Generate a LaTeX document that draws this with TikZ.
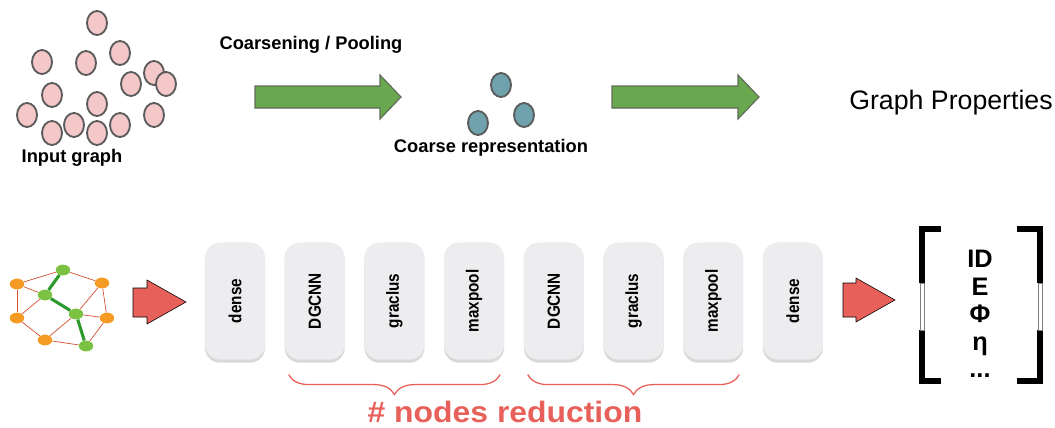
\documentclass[tikz,border=0pt]{standalone}
\usepackage{fontspec}
\setmainfont{Liberation Sans}
\usepackage{xcolor}
\usepackage{tikz}
\usetikzlibrary{shapes.geometric,shadows,decorations.pathreplacing,backgrounds}

\definecolor{pinkfill}{HTML}{F4C7C9}
\definecolor{ringgray}{HTML}{5A5A5A}
\definecolor{tealfill}{HTML}{6FA2AC}
\definecolor{arrowgreen}{HTML}{6AA84F}
\definecolor{arrowedge}{HTML}{5F6B5A}
\definecolor{arrowred}{HTML}{E8605A}
\definecolor{nodeorange}{HTML}{F59A23}
\definecolor{nodegreen}{HTML}{7CC242}
\definecolor{edgered}{HTML}{D2502E}
\definecolor{edgegreen}{HTML}{2E9A2E}
\definecolor{boxgray}{HTML}{EDEDF0}

\begin{document}
\begin{tikzpicture}[
x=0.025cm, y=-0.025cm,
pinknode/.style={ellipse, draw=ringgray, line width=1.3pt, fill=pinkfill, minimum width=0.5cm, minimum height=0.6cm, inner sep=0pt},
coarse/.style={pinknode, fill=tealfill},
gnode/.style={ellipse, fill=nodeorange, minimum width=0.36cm, minimum height=0.27cm, inner sep=0pt},
hub/.style={gnode, fill=nodegreen},
link/.style={draw=edgered, line width=0.5pt},
spine/.style={draw=edgegreen, line width=2.2pt},
layer/.style={rounded corners=0.375cm, fill=boxgray, minimum width=1.5cm, minimum height=2.925cm, inner sep=0pt,
  drop shadow={shadow xshift=0pt, shadow yshift=-0.08cm, opacity=0.3, fill=gray},
  font=\bfseries\fontsize{12.5}{14}\selectfont},
blockarrow/.style={draw=arrowedge, line width=0.8pt, fill=arrowgreen},
redarrow/.style={fill=arrowred},
lbl/.style={font=\bfseries\fontsize{13}{15}\selectfont},
redbrace/.style={draw=arrowred, line width=0.9pt, decorate, decoration={brace, mirror, amplitude=0.5cm}},
barpart/.style={line width=4pt}
]
\useasboundingbox (0,0) rectangle (1055,428);

% input graph
\foreach \i/\px/\py in {1/97/23, 2/120/53, 3/42/62, 4/86/63, 5/131/84, 6/154/73, 7/166/84, 8/52/95,
  9/97/104, 10/27/115, 11/74/125, 12/52/133, 13/97/133, 14/120/125, 15/154/115}
  \node[pinknode] (p\i) at (\px,\py) {};
\node[lbl] (inlbl) at (72,158) {Input graph};

\node[lbl] (pool) at (311,45) {Coarsening / Pooling};
\draw[blockarrow] (255,86) -- (380,86) -- (380,75) -- (401,97) -- (380,119) -- (380,108) -- (255,108) -- cycle;

% coarse representation
\node[coarse] (c1) at (501,85) {};
\node[coarse] (c2) at (524,115) {};
\node[coarse] (c3) at (478,123) {};
\node[lbl] (coarselbl) at (491,148) {Coarse representation};

\draw[blockarrow] (612,86) -- (738,86) -- (738,75) -- (759,97) -- (738,119) -- (738,108) -- (612,108) -- cycle;
\node[font=\fontsize{19}{22}\selectfont] (props) at (951,103) {Graph Properties};

% small graph
\node[gnode] (o1) at (17,284) {};
\node[gnode] (o2) at (102,283) {};
\node[gnode] (o3) at (17,318) {};
\node[gnode] (o4) at (107,318) {};
\node[gnode] (o5) at (45,340) {};
\node[hub] (g1) at (63,270) {};
\node[hub] (g2) at (45,295) {};
\node[hub] (g3) at (76,314) {};
\node[hub] (g4) at (86,346) {};
\begin{scope}[on background layer]
\foreach \a/\b in {o1/g1, g1/o2, o1/g2, o1/o3, g2/o3, o2/g3, o2/o4, g3/o4, o3/o5, o5/g3, o5/g4, g4/o4}
  \draw[link] (\a) -- (\b);
\foreach \a/\b in {g1/g2, g2/g3, g3/g4}
  \draw[spine] (\a) -- (\b);
\end{scope}

\draw[redarrow] (133,288) -- (147,288) -- (147,280) -- (186,302) -- (147,324) -- (147,317) -- (133,317) -- cycle;

% network layers
\foreach \i/\t in {1/dense, 2/DGCNN, 3/graclus, 4/maxpool, 5/DGCNN, 6/graclus, 7/maxpool, 8/dense}
  \node[layer] (b\i) at ({235+79.7*(\i-1)},301) {\rotatebox{90}{\scalebox{0.87}[1]{\t}}};

\draw[redarrow] (843,283) -- (856,283) -- (856,278) -- (895,300) -- (856,322) -- (856,317) -- (843,317) -- cycle;

% output vector
\draw[barpart] (941,229) -- (922,229) -- (922,283);
\draw[barpart] (922,330) -- (922,381) -- (941,381);
\draw[draw=gray, line width=0.4pt] (920,283) rectangle (924,330);
\draw[barpart] (1017,229) -- (1040,229) -- (1040,283);
\draw[barpart] (1040,330) -- (1040,381) -- (1017,381);
\draw[draw=gray, line width=0.4pt] (1038,283) rectangle (1042,330);
\node[font=\bfseries\fontsize{18}{19.6}\selectfont, align=center] (outvec) at (980,314) {ID\\E\\Φ\\η\\...};

% reduction braces
\draw[redbrace] ([xshift=3pt, yshift=-0.37cm]b2.south west) -- ([xshift=-3pt, yshift=-0.37cm]b4.south east);
\draw[redbrace] ([xshift=3pt, yshift=-0.37cm]b5.south west) -- ([xshift=-3pt, yshift=-0.37cm]b7.south east);
\node[font=\bfseries\fontsize{21}{23}\selectfont, text=arrowred, inner sep=0pt] (redlbl) at (505,412) {\scalebox{1.08}[1]{\# nodes reduction}};
\end{tikzpicture}
\end{document}
